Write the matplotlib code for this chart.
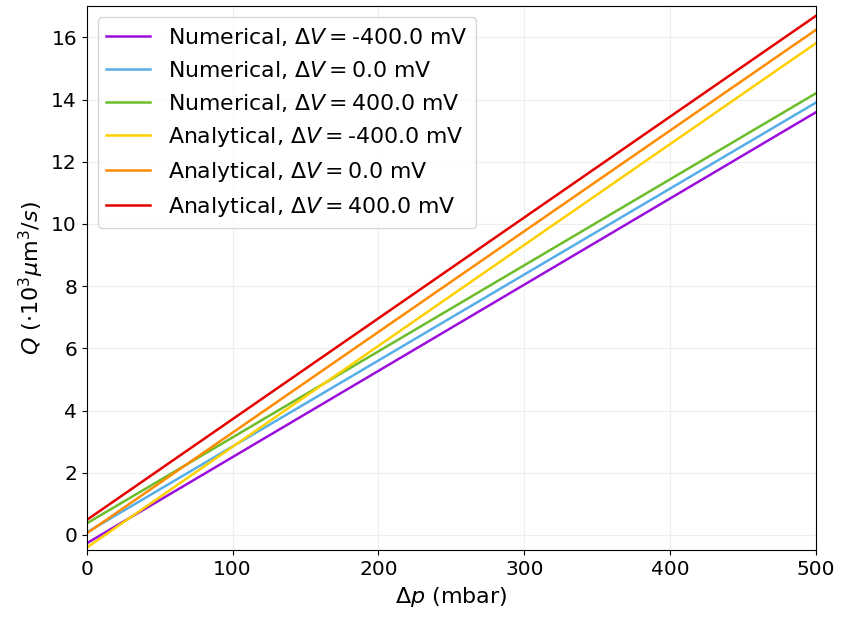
import matplotlib
matplotlib.use('Agg')
import matplotlib.pyplot as plt
import numpy as np

# pressure difference (mbar), endpoints of the straight lines
dp = np.array([0, 500])

labels = ['Numerical, $\\Delta V = $-400.0 mV',
          'Numerical, $\\Delta V = $0.0 mV',
          'Numerical, $\\Delta V = $400.0 mV',
          'Analytical, $\\Delta V = $-400.0 mV',
          'Analytical, $\\Delta V = $0.0 mV',
          'Analytical, $\\Delta V = $400.0 mV']
colors = ['#9b0fdc', '#56aee8', '#6cbd2a', '#ffd000', '#ff8c00', '#e60000']

# Q (10^3 um^3/s) at dp = 0 and dp = 500
q_num_m400 = [-0.27, 13.59]
q_num_0 = [0.08, 13.90]
q_num_p400 = [0.37, 14.20]
q_ana_m400 = [-0.41, 15.81]
q_ana_0 = [0.05, 16.24]
q_ana_p400 = [0.48, 16.69]
series = [q_num_m400, q_num_0, q_num_p400, q_ana_m400, q_ana_0, q_ana_p400]

plt.rcParams['font.size'] = 16
fig = plt.figure(figsize=(8.42, 6.22), dpi=100)
ax = fig.add_subplot(111)
for q, c, lab in zip(series, colors, labels):
    ax.plot(dp, q, color=c, lw=1.8, label=lab)

ax.set_xlim(0, 500)
ax.set_ylim(-0.5, 17)
ax.set_yticks(np.arange(0, 17, 2))
ax.tick_params(labelsize=14.5)
ax.grid(True, color='#eeeeee', lw=0.8)
ax.set_axisbelow(True)
ax.set_xlabel('$\\Delta p$ (mbar)')
ax.set_ylabel('$Q$ $(\\cdot 10^3 \\mu$m$^3/s)$')
ax.legend(loc='upper left', fontsize=15.8)
fig.subplots_adjust(left=0.103, right=0.969, top=0.99, bottom=0.115)
fig.savefig('out.png', dpi=100)
